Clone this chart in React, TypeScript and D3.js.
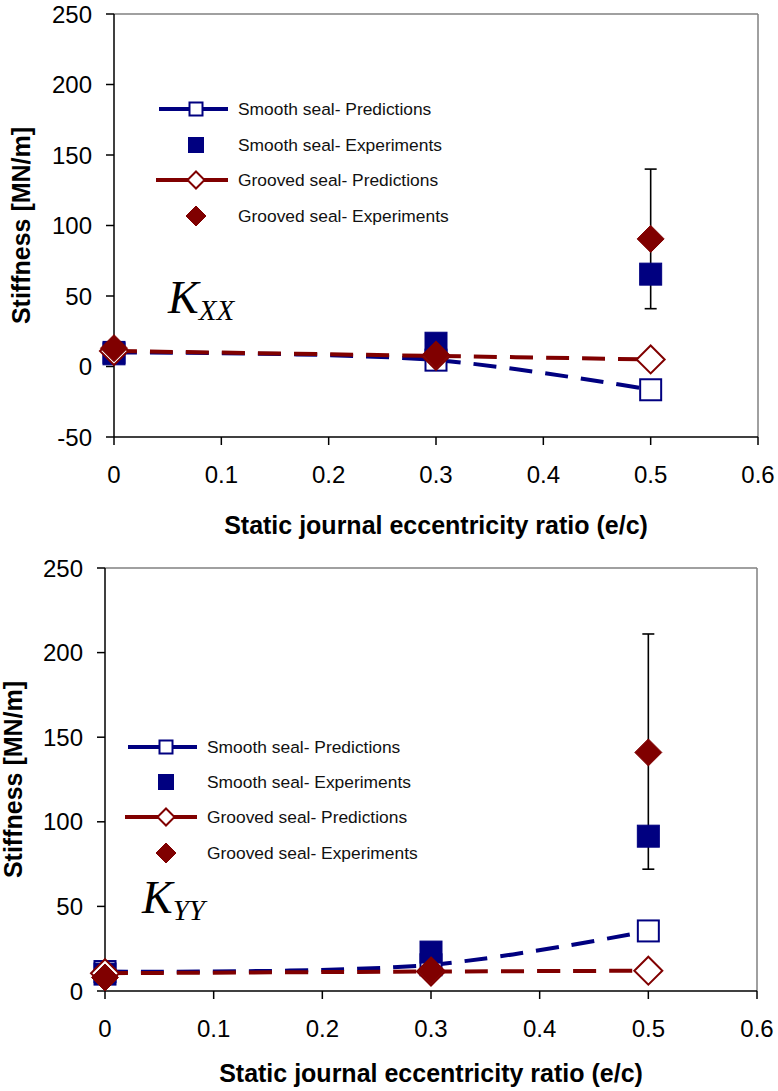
import React from 'react';
import * as d3 from 'd3';

const NAVY = '#000080';
const MAROON = '#800000';

// eccentricity ratios where data exist
const ecc = [0, 0.3, 0.5];
const xTickValues = [0, 0.1, 0.2, 0.3, 0.4, 0.5, 0.6];
const xTickLabels = ['0', '0.1', '0.2', '0.3', '0.4', '0.5', '0.6'];

// K_XX chart
const kxxYTicks = [-50, 0, 50, 100, 150, 200, 250];
const kxxSmoothPred = [10, 4.5, -16.5];
const kxxSmoothExp = [9, 16.5, 65.5];
const kxxGroovedPred = [11, 7.5, 5];
const kxxGroovedExp = [13, 8, 90.5];
const kxxErrX = [0.5];
const kxxErrLow = [41];
const kxxErrHigh = [140];

// K_YY chart
const kyyYTicks = [0, 50, 100, 150, 200, 250];
const kyySmoothPred = [11.5, 15.5, 35.5];
const kyySmoothExp = [10, 23, 91.5];
const kyyGroovedPred = [10.5, 11.5, 12];
const kyyGroovedExp = [8, 12, 141];
const kyyErrX = [0.5];
const kyyErrLow = [72];
const kyyErrHigh = [211];

const legendLabels = [
  'Smooth seal- Predictions',
  'Smooth seal- Experiments',
  'Grooved seal- Predictions',
  'Grooved seal- Experiments',
];

const FONT = '"Liberation Sans", Arial, Helvetica, sans-serif';

function Square({ cx, cy, s, fill, stroke, sw = 2 }: any) {
  return <rect x={cx - s / 2} y={cy - s / 2} width={s} height={s} fill={fill} stroke={stroke} strokeWidth={sw} />;
}
function Diamond({ cx, cy, s, fill, stroke, sw = 2 }: any) {
  const h = s / 2;
  return (
    <path d={`M${cx},${cy - h}L${cx + h},${cy}L${cx},${cy + h}L${cx - h},${cy}Z`} fill={fill} stroke={stroke} strokeWidth={sw} />
  );
}

function Chart({ cfg }: any) {
  const x = d3.scaleLinear().domain([0, 0.6]).range([cfg.left, cfg.right]);
  const y = d3.scaleLinear().domain(cfg.yDomain).range([cfg.bottom, cfg.top]);
  const line = d3
    .line<number>()
    .x((_, i) => x(ecc[i]))
    .y((d) => y(d))
    .curve(d3.curveCatmullRom.alpha(0.5));
  const dash = '23,13';
  const lg = cfg.legend;
  return (
    <g>
      {/* frame */}
      <line x1={cfg.left} x2={cfg.right} y1={cfg.top} y2={cfg.top} stroke="#808080" strokeWidth={1.5} />
      <line x1={cfg.right} x2={cfg.right} y1={cfg.top} y2={cfg.bottom} stroke="#808080" strokeWidth={1.5} />
      <line x1={cfg.left} x2={cfg.left} y1={cfg.top} y2={cfg.bottom} stroke="#000" strokeWidth={1.5} />
      <line x1={cfg.left} x2={cfg.right} y1={cfg.bottom} y2={cfg.bottom} stroke="#000" strokeWidth={1.5} />
      {/* y ticks */}
      {cfg.yTicks.map((t: number) => (
        <g key={'y' + t}>
          <line x1={cfg.left - 8} x2={cfg.left} y1={y(t)} y2={y(t)} stroke="#000" strokeWidth={1.5} />
          <text x={cfg.left - 22} y={y(t)} dy="0.36em" textAnchor="end" fontSize={24} fontFamily={FONT} fill="#000">
            {t}
          </text>
        </g>
      ))}
      {/* x ticks */}
      {xTickValues.map((t, i) => (
        <g key={'x' + t}>
          <line x1={x(t)} x2={x(t)} y1={cfg.bottom} y2={cfg.bottom + 8} stroke="#000" strokeWidth={1.5} />
          <text x={x(t)} y={cfg.bottom + 46} textAnchor="middle" fontSize={24} fontFamily={FONT} fill="#000">
            {xTickLabels[i]}
          </text>
        </g>
      ))}
      <text
        x={(cfg.left + cfg.right) / 2}
        y={cfg.bottom + cfg.titleOffset}
        textAnchor="middle"
        fontSize={25}
        fontWeight="bold"
        fontFamily={FONT}
        fill="#000"
      >
        Static journal eccentricity ratio (e/c)
      </text>
      <text
        transform={`translate(${cfg.yTitleX},${(cfg.top + cfg.bottom) / 2}) rotate(-90)`}
        textAnchor="middle"
        dy="0.36em"
        fontSize={25}
        fontWeight="bold"
        fontFamily={FONT}
        fill="#000"
      >
        Stiffness [MN/m]
      </text>
      {/* K label */}
      <text x={cfg.kx} y={cfg.ky} fontFamily='"Liberation Serif", "Times New Roman", serif' fontStyle="italic" fill="#000">
        <tspan fontSize={46}>K</tspan>
        <tspan fontSize={29} dy={7}>{cfg.sub}</tspan>
      </text>
      {/* error bars */}
      {cfg.errX.map((ex: number, i: number) => (
        <g key={'e' + i} stroke="#000" strokeWidth={1.6}>
          <line x1={x(ex)} x2={x(ex)} y1={y(cfg.errLow[i])} y2={y(cfg.errHigh[i])} />
          <line x1={x(ex) - 6} x2={x(ex) + 6} y1={y(cfg.errLow[i])} y2={y(cfg.errLow[i])} />
          <line x1={x(ex) - 6} x2={x(ex) + 6} y1={y(cfg.errHigh[i])} y2={y(cfg.errHigh[i])} />
        </g>
      ))}
      {/* smooth predictions */}
      <path d={line(cfg.smoothPred) || ''} fill="none" stroke={NAVY} strokeWidth={4} strokeDasharray={dash} />
      {cfg.smoothPred.map((v: number, i: number) => (
        <Square key={'sp' + i} cx={x(ecc[i])} cy={y(v)} s={21} fill="#fff" stroke={NAVY} />
      ))}
      {/* smooth experiments */}
      {cfg.smoothExp.map((v: number, i: number) => (
        <Square key={'se' + i} cx={x(ecc[i])} cy={y(v)} s={22} fill={NAVY} stroke={NAVY} sw={1} />
      ))}
      {/* grooved predictions */}
      <path d={line(cfg.groovedPred) || ''} fill="none" stroke={MAROON} strokeWidth={4} strokeDasharray={dash} />
      {cfg.groovedPred.map((v: number, i: number) => (
        <Diamond key={'gp' + i} cx={x(ecc[i])} cy={y(v)} s={28} fill="#fff" stroke={MAROON} />
      ))}
      {/* grooved experiments */}
      {cfg.groovedExp.map((v: number, i: number) => (
        <Diamond key={'ge' + i} cx={x(ecc[i])} cy={y(v)} s={27} fill={MAROON} stroke={MAROON} sw={1} />
      ))}
      {/* legend */}
      <g>
        <line x1={lg.x1} x2={lg.x2} y1={lg.rows[0]} y2={lg.rows[0]} stroke={NAVY} strokeWidth={4} />
        <Square cx={lg.mx} cy={lg.rows[0]} s={13} fill="#fff" stroke={NAVY} />
        <Square cx={lg.mx} cy={lg.rows[1]} s={15} fill={NAVY} stroke={NAVY} sw={1} />
        <line x1={lg.x1 - 3} x2={lg.x2} y1={lg.rows[2]} y2={lg.rows[2]} stroke={MAROON} strokeWidth={4} />
        <Diamond cx={lg.mx} cy={lg.rows[2]} s={17} fill="#fff" stroke={MAROON} />
        <Diamond cx={lg.mx} cy={lg.rows[3]} s={20} fill={MAROON} stroke={MAROON} sw={1} />
        {legendLabels.map((l, i) => (
          <text key={l} x={lg.tx} y={lg.rows[i]} dy="0.36em" fontSize={17.4} fontFamily={FONT} fill="#111">
            {l}
          </text>
        ))}
      </g>
    </g>
  );
}

const topCfg = {
  left: 114,
  right: 758,
  top: 14,
  bottom: 437,
  titleOffset: 97,
  yDomain: [-50, 250],
  yTicks: kxxYTicks,
  yTitleX: 21,
  smoothPred: kxxSmoothPred,
  smoothExp: kxxSmoothExp,
  groovedPred: kxxGroovedPred,
  groovedExp: kxxGroovedExp,
  errX: kxxErrX,
  errLow: kxxErrLow,
  errHigh: kxxErrHigh,
  kx: 168,
  ky: 313,
  sub: 'XX',
  legend: { rows: [109, 145, 180, 216], x1: 159, x2: 228, mx: 196, tx: 238 },
};

const botCfg = {
  left: 105,
  right: 757,
  top: 568,
  bottom: 991,
  titleOffset: 91,
  yDomain: [0, 250],
  yTicks: kyyYTicks,
  yTitleX: 13,
  smoothPred: kyySmoothPred,
  smoothExp: kyySmoothExp,
  groovedPred: kyyGroovedPred,
  groovedExp: kyyGroovedExp,
  errX: kyyErrX,
  errLow: kyyErrLow,
  errHigh: kyyErrHigh,
  kx: 142,
  ky: 913,
  sub: 'YY',
  legend: { rows: [747, 782, 817, 853], x1: 128, x2: 197, mx: 166, tx: 207 },
};

export default function App() {
  return (
    <svg
      width={778}
      height={1091}
      viewBox="0 0 778 1091"
      style={{ position: 'absolute', left: 0, top: 0, background: '#fff' }}
    >
      <rect width={778} height={1091} fill="#fff" />
      <Chart cfg={topCfg} />
      <Chart cfg={botCfg} />
    </svg>
  );
}
